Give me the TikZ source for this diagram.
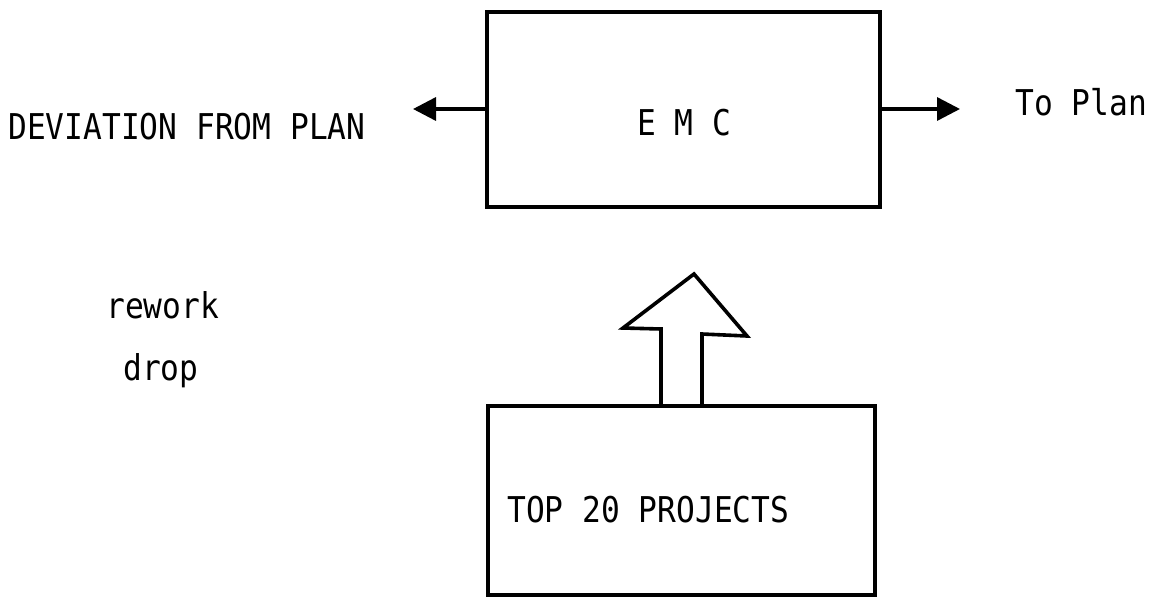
\documentclass[tikz,border=0pt]{standalone}
\usepackage{fontspec}
\usetikzlibrary{arrows.meta}
\newfontfamily\typefont{DejaVu Sans Mono}[FakeStretch=0.88]
\begin{document}
\begin{tikzpicture}[x=1pt,y=-1pt,
  box/.style={draw,line width=3.6pt,rectangle,inner sep=0pt},
  lbl/.style={inner sep=0pt,anchor=base west,font=\typefont\fontsize{35.5}{40}\selectfont},
  flow/.style={line width=3.4pt,-{Triangle[length=23pt,width=23pt]}},
  hollow/.style={line width=3.6pt,line join=miter}]
  \useasboundingbox (0,0) rectangle (1156,597);

  % main boxes
  \node[box,minimum width=393pt,minimum height=195pt] (emc) at (683.5,109.5) {};
  \node[box,minimum width=387pt,minimum height=189pt] (top) at (681.5,500.5) {};

  % labels
  \node[lbl] (emcl) at (637,135) {E M C};
  \node[lbl] (topl) at (507,522) {TOP 20 PROJECTS};
  \node[lbl] (dev)  at (8,139)   {DEVIATION FROM PLAN};
  \node[lbl] (plan) at (1015,115) {To Plan};
  \node[lbl] (rew)  at (106,318) {rework};
  \node[lbl] (drp)  at (123,380) {drop};

  % side outputs
  \coordinate (ltip) at (413,109);
  \coordinate (rtip) at (960,109);
  \draw[flow] (emc.west |- ltip) -- (ltip);
  \draw[flow] (emc.east |- rtip) -- (rtip);

  % hollow block arrow from the project list up to EMC
  \draw[hollow] (top.north -| 661,0) -- (661,329) -- (623,328) -- (694,274)
    -- (747,336) -- (702,334) -- (top.north -| 702,0);
\end{tikzpicture}
\end{document}
